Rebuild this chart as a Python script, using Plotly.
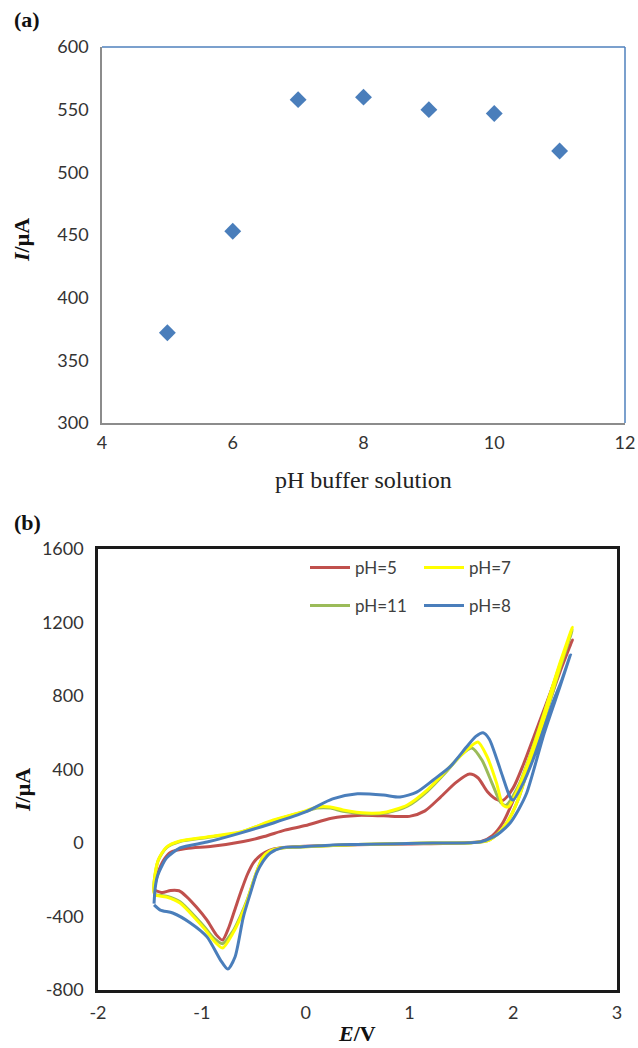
import plotly.graph_objects as go

# ---------------- Panel (a) data ----------------
ph_values = [5, 6, 7, 8, 9, 10, 11]
current_a = [372, 453, 558, 560, 550, 547, 517]
ticks_a_x = [4, 6, 8, 10, 12]
ticks_a_y = [300, 350, 400, 450, 500, 550, 600]

# ---------------- Panel (b) data (cyclic voltammograms) ----------------
ticks_b_x = [-2, -1, 0, 1, 2, 3]
ticks_b_y = [-800, -400, 0, 400, 800, 1200, 1600]

E_ph5 = [-1.46, -1.42, -1.37, -1.30, -1.15, -0.90, -0.60, -0.40, -0.20, 0.00, 0.25, 0.50, 0.75, 1.00,
         1.15, 1.30, 1.45, 1.58, 1.66, 1.75, 1.83, 1.90, 2.00, 2.10, 2.20, 2.30, 2.40, 2.50, 2.57,
         2.45, 2.30, 2.15, 2.00, 1.90, 1.80, 1.70, 1.50, 1.00, 0.50, 0.00, -0.25, -0.35, -0.43,
         -0.50, -0.56, -0.62, -0.68, -0.74, -0.80, -0.86, -0.95, -1.05, -1.15, -1.22, -1.30, -1.38, -1.46]
I_ph5 = [-250, -160, -95, -50, -30, -18, 8, 35, 70, 95, 135, 150, 148, 145,
         175, 250, 330, 375, 355, 280, 240, 232, 300, 430, 580, 730, 880, 1010, 1105,
         930, 690, 440, 230, 110, 40, 10, 0, -5, -10, -18, -27, -40, -65,
         -105, -170, -260, -360, -460, -528, -500, -420, -350, -290, -260, -258, -270, -255]

E_ph11 = [-1.46, -1.46, -1.42, -1.34, -1.21, -0.95, -0.63, -0.31, 0.00, 0.11, 0.24, 0.36, 0.59, 0.78,
          0.98, 1.17, 1.36, 1.50, 1.60, 1.70, 1.80, 1.88, 1.93, 2.05, 2.15, 2.25, 2.35, 2.45, 2.57,
          2.45, 2.30, 2.15, 2.05, 1.95, 1.85, 1.75, 1.60, 1.20, 0.50, 0.00, -0.25, -0.35, -0.41,
          -0.48, -0.56, -0.63, -0.70, -0.80, -0.89, -0.97, -1.05, -1.21, -1.34, -1.45, -1.46]
I_ph11 = [-265, -215, -95, -25, 8, 30, 58, 122, 172, 190, 190, 172, 158, 165,
          200, 280, 390, 480, 517, 450, 320, 220, 205, 310, 455, 625, 800, 970, 1160,
          950, 670, 415, 240, 120, 50, 12, 2, 0, -8, -20, -28, -45, -76,
          -170, -305, -400, -480, -548, -515, -460, -410, -320, -290, -280, -265]

E_ph7 = [-1.46, -1.46, -1.42, -1.34, -1.21, -0.95, -0.63, -0.31, 0.00, 0.11, 0.24, 0.36, 0.59, 0.78,
         0.98, 1.17, 1.36, 1.55, 1.66, 1.75, 1.84, 1.90, 1.95, 2.05, 2.15, 2.25, 2.35, 2.45, 2.57,
         2.45, 2.30, 2.15, 2.05, 1.95, 1.85, 1.75, 1.60, 1.20, 0.50, 0.00, -0.25, -0.35, -0.41,
         -0.48, -0.56, -0.63, -0.70, -0.80, -0.89, -0.97, -1.05, -1.21, -1.34, -1.45, -1.46]
I_ph7 = [-270, -218, -93, -22, 11, 33, 60, 125, 175, 196, 196, 180, 163, 169,
         207, 288, 397, 506, 550, 468, 326, 207, 196, 300, 450, 620, 800, 980, 1175,
         960, 680, 420, 240, 120, 50, 12, 2, 0, -8, -20, -28, -45, -76,
         -170, -310, -410, -490, -571, -528, -470, -419, -327, -294, -283, -270]

E_ph8 = [-1.46, -1.45, -1.43, -1.38, -1.34, -1.21, -0.95, -0.63, -0.31, 0.00, 0.26, 0.50, 0.75, 0.91,
         1.07, 1.23, 1.39, 1.55, 1.64, 1.71, 1.77, 1.84, 1.90, 1.97, 2.00, 2.10, 2.19, 2.30, 2.38, 2.47, 2.55,
         2.45, 2.30, 2.13, 2.05, 1.97, 1.88, 1.81, 1.68, 1.50, 1.23, 0.50, 0.26, -0.05, -0.22, -0.34,
         -0.41, -0.47, -0.53, -0.60, -0.68, -0.75, -0.82, -0.95, -1.11, -1.28, -1.40, -1.46]
I_ph8 = [-330, -250, -185, -120, -82, -27, 5, 54, 109, 169, 240, 268, 261, 250,
         277, 343, 414, 522, 580, 600, 565, 460, 359, 250, 234, 330, 452, 630, 762, 890, 1023,
         850, 600, 272, 180, 109, 60, 33, 5, 0, 0, -8, -11, -22, -25, -54,
         -100, -163, -270, -403, -620, -686, -637, -511, -435, -381, -365, -337]

series_b = [
    ("pH=5", E_ph5, I_ph5, "#c0504d", "legend"),
    ("pH=11", E_ph11, I_ph11, "#9bbb59", "legend2"),
    ("pH=7", E_ph7, I_ph7, "#ffff00", "legend"),
    ("pH=8", E_ph8, I_ph8, "#4a7ebb", "legend2"),
]

W, H = 638, 1048
def px_x(p):
    return p / W
def px_y(p):
    return 1 - p / H

fig = go.Figure()

fig.add_trace(go.Scatter(
    x=ph_values, y=current_a, mode="markers",
    marker=dict(symbol="diamond", size=13, color="#4a7ebb", line=dict(width=0)),
    xaxis="x", yaxis="y", showlegend=False, hoverinfo="skip"))

for name, E, I, col, lg in series_b:
    fig.add_trace(go.Scatter(
        x=E, y=I, mode="lines", name=name,
        line=dict(color=col, width=3, shape="spline", smoothing=0.7),
        xaxis="x2", yaxis="y2", legend=lg, hoverinfo="skip"))

tick_font = dict(family="Lato, Open Sans, sans-serif", size=18, color="#333333")
leg_font = dict(family="Lato, Open Sans, sans-serif", size=17, color="#404040")

fig.update_layout(
    width=W, height=H,
    margin=dict(l=0, r=0, t=0, b=0, autoexpand=False),
    paper_bgcolor="white", plot_bgcolor="white",
    xaxis=dict(domain=[px_x(102), px_x(625)], range=[4, 12],
               tickvals=ticks_a_x, ticktext=[str(v) for v in ticks_a_x],
               showgrid=False, zeroline=False, showline=True, linecolor="#8c8c8c", linewidth=1.5,
               ticks="", tickfont=tick_font, anchor="y", ticklabelstandoff=3, automargin=False),
    yaxis=dict(domain=[px_y(423), px_y(47)], range=[300, 600],
               tickvals=ticks_a_y, ticktext=[str(v) for v in ticks_a_y],
               showgrid=False, zeroline=False, showline=True, linecolor="#8c8c8c", linewidth=1.5,
               ticks="", tickfont=tick_font, anchor="x", ticklabelstandoff=8, automargin=False),
    xaxis2=dict(domain=[px_x(98), px_x(617)], range=[-2, 3],
                tickvals=ticks_b_x, ticktext=[str(v) for v in ticks_b_x],
                showgrid=False, zeroline=False, showline=True, linecolor="#1a1a1a", linewidth=2.5,
                mirror=True, ticks="", tickfont=tick_font, anchor="y2", ticklabelstandoff=5,
                automargin=False),
    yaxis2=dict(domain=[px_y(990), px_y(549)], range=[-800, 1600],
                tickvals=ticks_b_y, ticktext=[str(v) for v in ticks_b_y],
                showgrid=False, zeroline=False, showline=True, linecolor="#1a1a1a", linewidth=2.5,
                mirror=True, ticks="", tickfont=tick_font, anchor="x2", ticklabelstandoff=8,
                automargin=False),
    legend=dict(x=px_x(305), y=px_y(550), xanchor="left", yanchor="top", orientation="h",
                entrywidth=59, entrywidthmode="pixels", bgcolor="rgba(0,0,0,0)",
                font=leg_font, itemwidth=40, tracegroupgap=0),
    legend2=dict(x=px_x(305), y=px_y(588), xanchor="left", yanchor="top", orientation="h",
                 entrywidth=59, entrywidthmode="pixels", bgcolor="rgba(0,0,0,0)",
                 font=leg_font, itemwidth=40, tracegroupgap=0),
    shapes=[
        dict(type="line", xref="x domain", yref="y domain", x0=0, x1=1, y0=1, y1=1,
             line=dict(color="#4f81bd", width=1.5)),
        dict(type="line", xref="x domain", yref="y domain", x0=1, x1=1, y0=0, y1=1,
             line=dict(color="#4f81bd", width=1.5)),
    ],
    annotations=[
        dict(text="<b>(a)</b>", x=px_x(12), y=px_y(20), xref="paper", yref="paper",
             xanchor="left", yanchor="middle", showarrow=False,
             font=dict(family="Liberation Serif, serif", size=22, color="#111")),
        dict(text="<b>(b)</b>", x=px_x(12), y=px_y(522), xref="paper", yref="paper",
             xanchor="left", yanchor="middle", showarrow=False,
             font=dict(family="Liberation Serif, serif", size=22, color="#111")),
        dict(text="pH buffer solution", x=px_x(363), y=px_y(480), xref="paper", yref="paper",
             xanchor="center", yanchor="middle", showarrow=False,
             font=dict(family="Liberation Serif, serif", size=24, color="#222")),
        dict(text="<b><i>I</i>/μA</b>", x=px_x(22), y=px_y(240), xref="paper", yref="paper",
             xanchor="center", yanchor="middle", showarrow=False, textangle=-90,
             font=dict(family="Liberation Serif, serif", size=22, color="#111")),
        dict(text="<b><i>I</i>/μA</b>", x=px_x(22), y=px_y(790), xref="paper", yref="paper",
             xanchor="center", yanchor="middle", showarrow=False, textangle=-90,
             font=dict(family="Liberation Serif, serif", size=22, color="#111")),
        dict(text="<b><i>E</i>/V</b>", x=px_x(357), y=px_y(1033), xref="paper", yref="paper",
             xanchor="center", yanchor="middle", showarrow=False,
             font=dict(family="Liberation Serif, serif", size=22, color="#111")),
    ],
)

fig.write_html("out.html")
